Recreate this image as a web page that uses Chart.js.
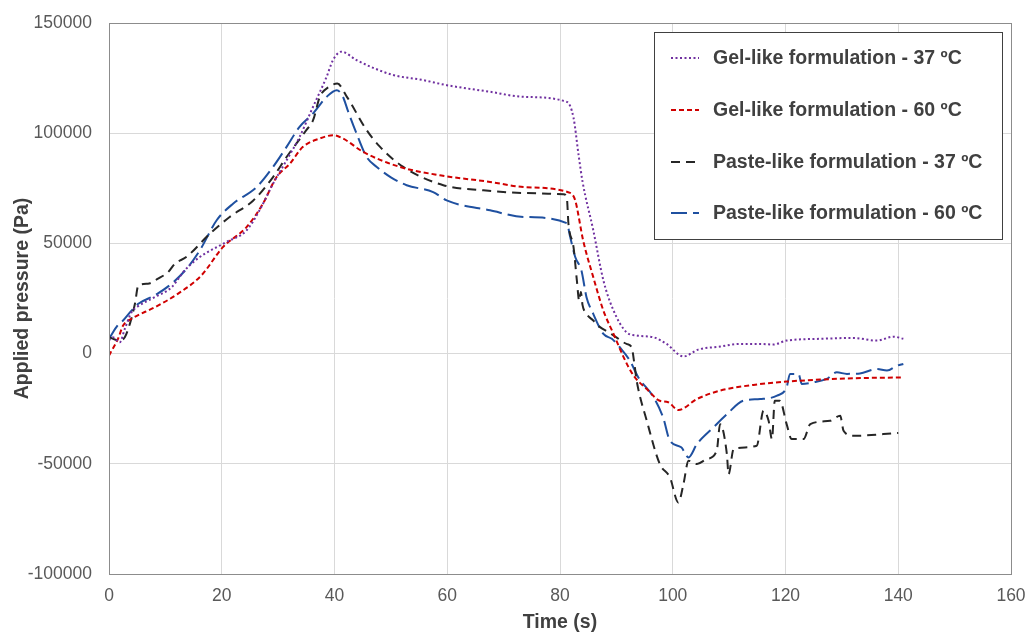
<!DOCTYPE html>
<html>
<head>
<meta charset="utf-8">
<script src="https://cdn.jsdelivr.net/npm/chart.js@4/dist/chart.umd.min.js"></script>
<style>
  html, body { margin: 0; padding: 0; background: #ffffff; }
  canvas { display: block; }
</style>
</head>
<body>
<canvas id="c" width="1027" height="634"></canvas>
<script>
// ---- Data ----
const seriesLabels = [
  "Gel-like formulation - 37 \u00baC",
  "Gel-like formulation - 60 \u00baC",
  "Paste-like formulation - 37 \u00baC",
  "Paste-like formulation - 60 \u00baC"
];

const gel37Time = [0, 0.7, 1.9, 2.8, 4, 4.9, 8.1, 11.1, 13.4, 16.1, 20.8, 24.4, 26.7, 29.1, 31.5, 33.8, 36.2, 38.6, 39.7, 41.2, 43.9, 47, 50.4, 55.7, 59.9, 67.6, 73.5, 81.2, 82.4, 83.3, 84, 85.9, 87.7, 89.5, 91.8, 93.6, 96.6, 98.9, 101.9, 104.5, 108.4, 111.9, 115.5, 117.8, 120.2, 126.1, 132, 136.2, 139.2, 140.9];
const gel37Pa   = [6000, 7400, 5100, 11200, 18800, 21000, 25600, 30100, 37700, 43800, 50600, 55900, 65000, 77100, 87700, 98300, 112000, 125600, 133000, 137000, 133200, 129500, 126400, 124100, 121800, 118800, 116500, 114200, 107000, 90000, 78000, 56000, 33200, 19500, 9700, 8200, 7400, 4400, -1300, 1800, 3200, 4400, 4400, 4100, 5900, 6700, 7100, 5900, 7700, 6700];

const gel60Time = [0, 0.4, 1.6, 2.5, 4, 8.1, 12.2, 16.4, 20.2, 24.4, 27.3, 29.7, 32.1, 34.4, 37.4, 39.8, 41.5, 45.1, 51.6, 58.7, 67.6, 73.5, 81.8, 82.7, 84.1, 85.9, 87.7, 89.5, 91.3, 93, 95.4, 97.7, 99.2, 101, 104.3, 108.4, 114.3, 120.2, 126.1, 132, 140.9];
const gel60Pa   = [-1000, 1000, 6700, 12700, 15800, 21000, 27100, 35500, 48300, 57400, 68000, 80000, 86200, 93800, 97600, 99100, 97600, 91500, 84700, 80900, 77900, 75600, 72900, 69500, 51400, 34700, 19500, 8900, -1700, -9800, -16100, -21400, -22100, -25600, -20600, -16800, -14200, -12700, -11800, -11200, -10800];

const paste37Time = [0, 1.9, 2.8, 3.7, 4.6, 5.2, 6.9, 8.7, 10.5, 11.7, 13.7, 17.9, 21.4, 25.6, 29.1, 31.5, 35, 36.2, 37.4, 39, 40.5, 42.2, 45.7, 48, 52.2, 59.3, 66.4, 73.5, 80.6, 81.2, 81.5, 82.4, 83, 83.4, 83.7, 84, 84.7, 85.9, 87.1, 88.6, 90, 91.8, 92.7, 93.2, 93.6, 95.4, 97.7, 99.5, 101, 101.9, 102.8, 104.3, 106, 107.8, 108.4, 109.6, 109.9, 110.8, 114.9, 116.1, 117, 117.6, 118.1, 119, 120.2, 121.1, 123.2, 124.4, 127.9, 129.7, 130.3, 132, 140];
const paste37Pa   = [7400, 5900, 7400, 13500, 22600, 30900, 31700, 34000, 37000, 40800, 43800, 54400, 62000, 69500, 80100, 89200, 101400, 105900, 116500, 121000, 122500, 116500, 101400, 94000, 84700, 76400, 74100, 72900, 72300, 71000, 58900, 48300, 33000, 24000, 28000, 22000, 18000, 15000, 12000, 9700, 7400, 4400, 2900, -4700, -12300, -30500, -50100, -56200, -67600, -59200, -48600, -50100, -47900, -44100, -32000, -45600, -54700, -43300, -41800, -25900, -30500, -38800, -21400, -21400, -32000, -38800, -38800, -32000, -30500, -28200, -35000, -37300, -36000];

const paste60Time = [0, 1.5, 2.5, 4, 5.2, 8.1, 11.1, 14, 16.1, 19.1, 22, 26.2, 29.1, 31.5, 33.8, 36.2, 38.6, 40.4, 41.5, 42.4, 43.9, 45.7, 47.5, 50, 52.8, 57.5, 59.9, 67.6, 73.5, 81.2, 81.8, 82.7, 83.8, 84.7, 85.9, 87.7, 89.2, 90.6, 92.4, 93.9, 96.6, 98.3, 99.5, 101.5, 102.8, 104.3, 107.2, 109.6, 112.5, 115.5, 118.5, 120.2, 120.8, 122.3, 122.9, 125, 127.3, 129.1, 130.9, 133.2, 136.2, 138, 139.8, 140.9];
const paste60Pa   = [6700, 12700, 15000, 19500, 22600, 26400, 31700, 39200, 46800, 60500, 68000, 75600, 84700, 93800, 102900, 109000, 116500, 119500, 116500, 110000, 99900, 89200, 84700, 80000, 76400, 73300, 69500, 65000, 62000, 59200, 53000, 43800, 37700, 25600, 18000, 8900, 6700, 2900, -3200, -10800, -19800, -29000, -39500, -42500, -47100, -41000, -33500, -27500, -21400, -20600, -19100, -15300, -9200, -9200, -13800, -13000, -11500, -8500, -9200, -9000, -7000, -7700, -5500, -4700];

const xTickStep = 20;
const yTickStep = 50000;

function pts(ts, vs) { return ts.map((t, i) => ({ x: t, y: vs[i] })); }

const FONT = "'Liberation Sans', Arial, sans-serif";
const TEXT = '#595959';

const frameAndLegend = {
  id: 'frameAndLegend',
  afterDatasetsDraw(chart) {
    const ctx = chart.ctx;
    const a = chart.chartArea;
    ctx.save();
    // plot-area frame
    ctx.strokeStyle = '#8c8c8c';
    ctx.lineWidth = 1;
    ctx.setLineDash([]);
    ctx.strokeRect(Math.round(a.left) + 0.5, Math.round(a.top) + 0.5, Math.round(a.right - a.left), Math.round(a.bottom - a.top));
    // legend box
    const bx = 654, by = 32, bw = 348, bh = 207;
    ctx.fillStyle = '#ffffff';
    ctx.fillRect(bx, by, bw, bh);
    ctx.strokeStyle = '#404040';
    ctx.strokeRect(bx + 0.5, by + 0.5, bw, bh);
    const rows = [58, 110, 162, 213];
    chart.data.datasets.forEach((ds, i) => {
      const y = rows[i];
      ctx.beginPath();
      ctx.setLineDash(ds.borderDash || []);
      ctx.strokeStyle = ds.borderColor;
      ctx.lineWidth = ds.borderWidth;
      ctx.moveTo(671, y);
      ctx.lineTo(699, y);
      ctx.stroke();
      ctx.setLineDash([]);
      ctx.fillStyle = '#404040';
      ctx.font = "bold 19.5px " + FONT;
      ctx.textBaseline = 'middle';
      ctx.textAlign = 'left';
      ctx.fillText(ds.label, 713, y + 1);
    });
    ctx.restore();
  }
};

new Chart(document.getElementById('c'), {
  type: 'line',
  data: {
    datasets: [
      { label: seriesLabels[0], data: pts(gel37Time, gel37Pa), borderColor: '#7030A0', borderWidth: 2, borderDash: [2, 2.5], pointRadius: 0, fill: false, cubicInterpolationMode: 'monotone' },
      { label: seriesLabels[1], data: pts(gel60Time, gel60Pa), borderColor: '#D00000', borderWidth: 2, borderDash: [5, 3], pointRadius: 0, fill: false, cubicInterpolationMode: 'monotone' },
      { label: seriesLabels[2], data: pts(paste37Time, paste37Pa), borderColor: '#262626', borderWidth: 2, borderDash: [9, 6], pointRadius: 0, fill: false, cubicInterpolationMode: 'monotone' },
      { label: seriesLabels[3], data: pts(paste60Time, paste60Pa), borderColor: '#1F50A0', borderWidth: 2, borderDash: [16, 6], pointRadius: 0, fill: false, cubicInterpolationMode: 'monotone' }
    ]
  },
  options: {
    responsive: false,
    animation: false,
    layout: { padding: { left: 0, top: 23, right: 16, bottom: 0 } },
    plugins: { legend: { display: false }, tooltip: { enabled: false } },
    scales: {
      x: {
        type: 'linear',
        min: 0, max: 160,
        afterFit(s) { s.height = 60; s.paddingLeft = 0; s.paddingRight = 0; },
        ticks: { stepSize: xTickStep, color: TEXT, font: { family: FONT, size: 17.5 }, padding: 12, maxRotation: 0 },
        grid: { color: '#D9D9D9', drawTicks: false },
        border: { display: false },
        title: { display: true, text: 'Time (s)', color: '#404040', font: { family: FONT, size: 19.5, weight: 'bold' }, padding: { top: 0, bottom: 0 } }
      },
      y: {
        min: -100000, max: 150000,
        afterFit(s) { s.width = 109; s.paddingTop = 0; s.paddingBottom = 0; },
        ticks: { stepSize: yTickStep, color: TEXT, font: { family: FONT, size: 17.5 }, padding: 17, callback: v => String(v) },
        grid: { color: '#D9D9D9', drawTicks: false },
        border: { display: false },
        title: { display: true, text: 'Applied pressure (Pa)', color: '#404040', font: { family: FONT, size: 19.5, weight: 'bold' }, padding: { top: 11, bottom: 0 } }
      }
    }
  },
  plugins: [frameAndLegend]
});
</script>
</body>
</html>
